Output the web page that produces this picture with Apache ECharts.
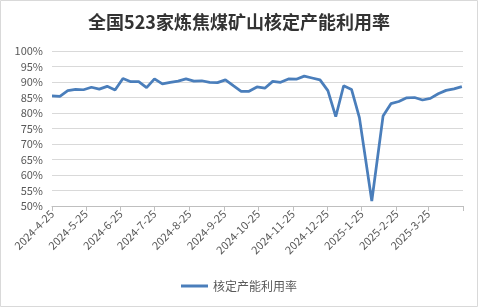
<!DOCTYPE html>
<html><head><meta charset="utf-8">
<script src="https://cdn.jsdelivr.net/npm/echarts@6/dist/echarts.min.js"></script>
<style>html,body{margin:0;padding:0;background:#fff;}#c{width:478px;height:307px;}</style>
</head><body><div id="c"></div>
<script>
const dates = [
 '2024-4-25','2024-5-2','2024-5-9','2024-5-16','2024-5-23','2024-5-30','2024-6-6','2024-6-13','2024-6-20','2024-6-27',
 '2024-7-4','2024-7-11','2024-7-18','2024-7-25','2024-8-1','2024-8-8','2024-8-15','2024-8-22','2024-8-29','2024-9-5',
 '2024-9-12','2024-9-19','2024-9-26','2024-10-3','2024-10-10','2024-10-17','2024-10-24','2024-10-31','2024-11-7','2024-11-14',
 '2024-11-21','2024-11-28','2024-12-5','2024-12-12','2024-12-19','2024-12-26','2025-1-2','2025-1-9','2025-1-16','2025-1-23',
 '2025-2-3','2025-2-13','2025-2-20','2025-2-27','2025-3-6','2025-3-13','2025-3-20','2025-3-27','2025-4-3','2025-4-10',
 '2025-4-17','2025-4-24'
];
const values = [
 85.5,85.4,87.2,87.6,87.5,88.3,87.7,88.6,87.4,91.1,
 90.1,90.1,88.2,91.0,89.4,89.9,90.3,91.0,90.3,90.4,
 89.9,89.8,90.7,88.8,87.0,87.0,88.4,88.0,90.2,89.9,
 91.0,90.9,91.9,91.3,90.7,87.2,78.8,88.8,87.6,78.5,
 51.6,79.0,83.0,83.7,84.9,85.0,84.2,84.7,86.2,87.3,
 87.8,88.5
];
const tickDates = ['2024-4-25','2024-5-25','2024-6-25','2024-7-25','2024-8-25','2024-9-25','2024-10-25','2024-11-25','2024-12-25','2025-1-25','2025-2-25','2025-3-25','2025-4-25'];
const labelDates = tickDates.slice(0, 12);
const seriesName = '核定产能利用率';
const titleText = '全国523家炼焦煤矿山核定产能利用率';

const DAY = 86400000;
function dnum(s){const p=s.split('-').map(Number);return Math.round(Date.UTC(p[0],p[1]-1,p[2])/DAY);}
function fmt(v){const d=new Date(Math.round(v)*DAY);return d.getUTCFullYear()+'-'+(d.getUTCMonth()+1)+'-'+d.getUTCDate();}

const chart = echarts.init(document.getElementById('c'));
chart.setOption({
  animation:false,
  textStyle:{fontFamily:'"Noto Sans CJK SC","Noto Sans",sans-serif'},
  graphic:[{type:'rect',shape:{x:0.5,y:0.5,width:477,height:306},style:{fill:'none',stroke:'#d9d9d9',lineWidth:1},silent:true}],
  title:{text:titleText,left:'center',top:8,textStyle:{fontSize:18,fontWeight:'bold',color:'#333333',fontFamily:'"Noto Sans CJK SC",sans-serif'}},
  legend:{bottom:10,left:'center',icon:'rect',itemWidth:27,itemHeight:3,itemGap:6,
    textStyle:{fontSize:12,color:'#595959'},data:[seriesName]},
  grid:{left:52,right:15,top:51,bottom:101,containLabel:false},
  xAxis:{type:'value',min:dnum(tickDates[0]),max:dnum(tickDates[tickDates.length-1]),
    axisLine:{show:true,lineStyle:{color:'#bfbfbf',width:1}},
    axisTick:{show:true,length:5,lineStyle:{color:'#bfbfbf'},customValues:tickDates.map(dnum)},
    axisLabel:{rotate:45,fontSize:11,color:'#595959',margin:6,customValues:labelDates.map(dnum),formatter:function(v){return fmt(v);}},
    splitLine:{show:false}},
  yAxis:{type:'value',min:50,max:100,interval:5,
    axisLine:{show:false},axisTick:{show:false},
    axisLabel:{formatter:'{value}%',fontSize:11,color:'#595959',margin:9},
    splitLine:{lineStyle:{color:'#d9d9d9',width:1}}},
  series:[{name:seriesName,type:'line',symbol:'none',
    data:dates.map((d,i)=>[dnum(d),values[i]]),
    lineStyle:{color:'#4a7ebb',width:2.75},itemStyle:{color:'#4a7ebb'}}]
});
</script></body></html>
